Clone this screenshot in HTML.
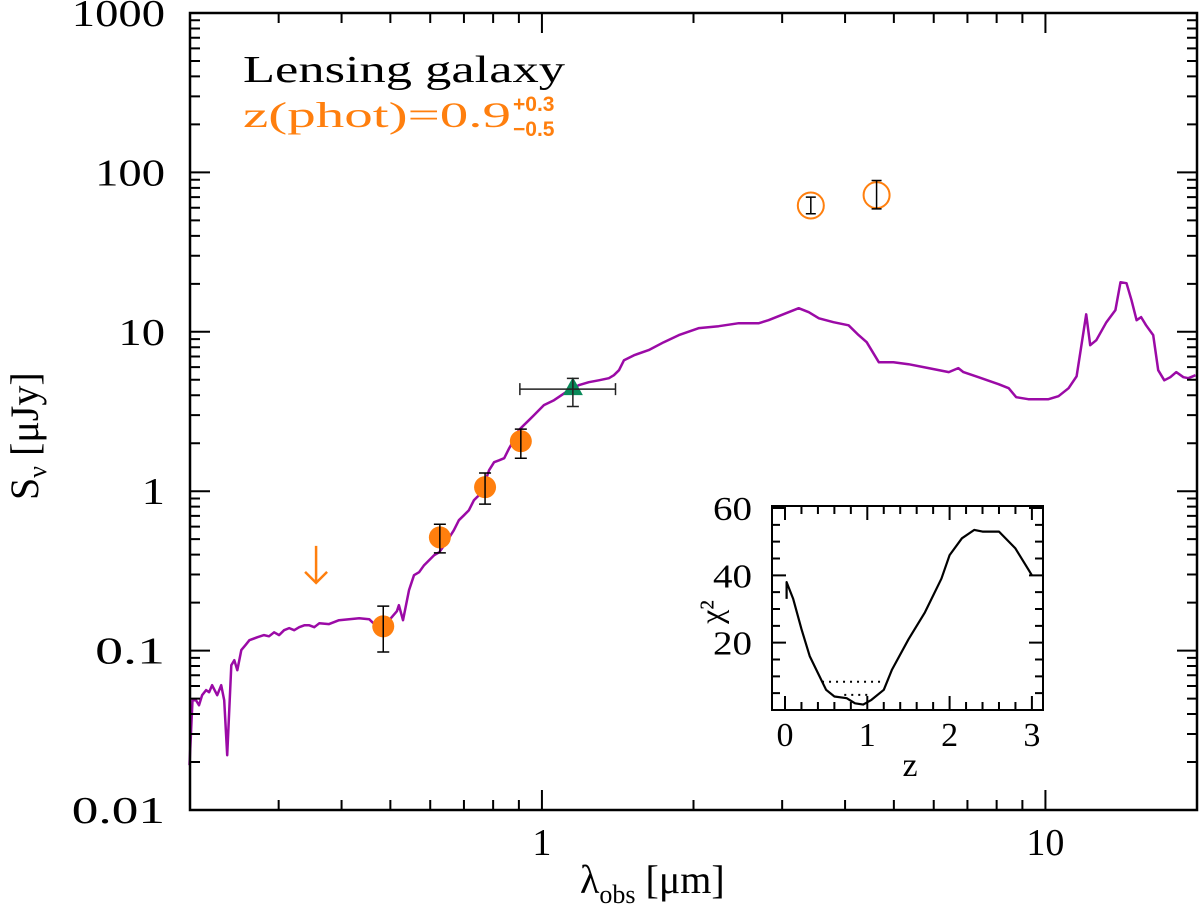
<!DOCTYPE html>
<html><head><meta charset="utf-8"><style>
html,body{margin:0;padding:0;background:#fff;}
svg{display:block;font-family:"Liberation Serif",serif;}
</style></head><body>
<svg id="chart" width="1200" height="911" viewBox="0 0 1200 911" xmlns="http://www.w3.org/2000/svg">
<g id="main"></g>
<g id="inset"></g>
<text x="243" y="82" font-size="38" textLength="322" lengthAdjust="spacingAndGlyphs">Lensing galaxy</text>
<text x="243" y="127" font-size="36" fill="#ff7f0e" textLength="268" lengthAdjust="spacingAndGlyphs">z(phot)=0.9</text>
<text x="513" y="111" font-size="21" fill="#ff7f0e" font-weight="bold" font-family="Liberation Sans, sans-serif">+0.3</text>
<text x="513" y="136" font-size="21" fill="#ff7f0e" font-weight="bold" font-family="Liberation Sans, sans-serif">−0.5</text>
<text x="580" y="893" font-size="40">λ<tspan font-size="26" dy="10">obs</tspan><tspan dy="-10"> [μm]</tspan></text>
<text transform="translate(38,500) rotate(-90)" font-size="40">S<tspan font-size="26" dy="8">ν</tspan><tspan dy="-8"> [μJy]</tspan></text>
</svg>
<script>
// SED template (log10 wavelength [µm], log10 flux [µJy])
const sedLogLam = [-0.700,-0.694,-0.687,-0.681,-0.675,-0.667,-0.661,-0.655,-0.645,-0.637,-0.631,-0.625,-0.617,-0.611,-0.605,-0.597,-0.589,-0.581,-0.565,-0.552,-0.542,-0.532,-0.522,-0.512,-0.502,-0.492,-0.482,-0.472,-0.462,-0.452,-0.442,-0.423,-0.403,-0.383,-0.363,-0.343,-0.333,-0.327,-0.313,-0.300,-0.288,-0.284,-0.276,-0.268,-0.264,-0.254,-0.244,-0.234,-0.224,-0.214,-0.204,-0.194,-0.185,-0.175,-0.165,-0.155,-0.145,-0.135,-0.125,-0.115,-0.105,-0.095,-0.085,-0.075,-0.065,-0.056,-0.046,-0.036,-0.026,-0.016,0.004,0.024,0.054,0.073,0.093,0.113,0.133,0.143,0.153,0.163,0.183,0.212,0.242,0.272,0.312,0.351,0.391,0.431,0.450,0.490,0.510,0.530,0.550,0.579,0.609,0.629,0.645,0.669,0.698,0.728,0.768,0.808,0.827,0.837,0.867,0.907,0.927,0.942,0.966,1.006,1.026,1.046,1.062,1.069,1.081,1.089,1.101,1.121,1.139,1.149,1.161,1.171,1.181,1.190,1.200,1.214,1.224,1.236,1.248,1.260,1.274,1.284,1.298];
const sedLogS = [-1.719,-1.311,-1.311,-1.343,-1.280,-1.248,-1.261,-1.217,-1.280,-1.217,-1.311,-1.656,-1.092,-1.060,-1.123,-0.997,-0.966,-0.935,-0.916,-0.903,-0.910,-0.885,-0.903,-0.872,-0.859,-0.872,-0.853,-0.841,-0.841,-0.853,-0.828,-0.834,-0.809,-0.803,-0.797,-0.803,-0.834,-0.859,-0.872,-0.797,-0.753,-0.715,-0.809,-0.684,-0.621,-0.527,-0.508,-0.464,-0.433,-0.401,-0.383,-0.339,-0.295,-0.245,-0.182,-0.151,-0.119,-0.056,-0.025,0.038,0.132,0.182,0.194,0.207,0.270,0.320,0.383,0.414,0.445,0.477,0.540,0.571,0.634,0.665,0.684,0.696,0.709,0.728,0.759,0.822,0.853,0.885,0.935,0.979,1.023,1.035,1.054,1.054,1.073,1.123,1.148,1.123,1.085,1.060,1.041,0.979,0.935,0.809,0.809,0.797,0.772,0.747,0.772,0.747,0.715,0.671,0.646,0.590,0.577,0.577,0.596,0.646,0.721,0.866,1.110,0.916,0.947,1.060,1.136,1.311,1.305,1.198,1.073,1.092,1.041,0.979,0.759,0.696,0.715,0.747,0.715,0.709,0.728];
// photometry (µm, µJy)
const photLam = [0.484,0.627,0.771,0.908];
const photS = [0.142,0.513,1.06,2.06];
const photHi = [0.19,0.62,1.3,2.45];
const photLo = [0.098,0.41,0.83,1.61];
const nirLam = [1.152], nirS = [4.37], nirHi = [5.1], nirLo = [3.4], nirLamLo = [0.904], nirLamHi = [1.40];
const iracLam = [3.42,4.62], iracS = [62,72], iracHi = [70,89], iracLo = [55,59];
const limitLam = [0.356], limitS = [0.34];
// chi2 inset
const chiZ = [0.02,0.02,0.1,0.2,0.3,0.4,0.5,0.6,0.75,0.85,0.95,1.05,1.2,1.3,1.5,1.7,1.9,2.0,2.15,2.3,2.4,2.5,2.6,2.8,2.95,3.0];
const chiV = [33,38,33,24,16,11,6,4,3.5,2,1.6,3,6,12,21,29,39,46,51,53.5,53,53,53,48,42,40];
const chiLevels = [8.4,4.5];
const chiLevelZ0 = [0.45,0.72], chiLevelZ1 = [1.2,1.05];
const yTicks = ["0.01","0.1","1","10","100","1000"];
const xTicks = ["1","10"];

const NS="http://www.w3.org/2000/svg";
function mk(parent,tag,attrs){const e=document.createElementNS(NS,tag);for(const k in attrs)e.setAttribute(k,attrs[k]);parent.appendChild(e);return e;}
const L=190,R=1197,T=13,B=810;
const lx0=Math.log10(0.2),lx1=Math.log10(20),ly0=-2,ly1=3;
const X=v=>L+(Math.log10(v)-lx0)/(lx1-lx0)*(R-L);
const XL=l=>L+(l-lx0)/(lx1-lx0)*(R-L);
const Y=v=>B-(Math.log10(v)-ly0)/(ly1-ly0)*(B-T);
const YL=l=>B-(l-ly0)/(ly1-ly0)*(B-T);
const main=document.getElementById('main');

let d='';sedLogLam.forEach((l,i)=>{d+=(i?'L':'M')+XL(l).toFixed(1)+','+YL(sedLogS[i]).toFixed(1);});
const sed=mk(main,'path',{d:d,fill:'none',stroke:'#9b0aa6','stroke-width':2.5,'stroke-linejoin':'round'});



limitLam.forEach((l,i)=>{const x=X(l),y=Y(limitS[i]);
 const a=mk(main,'path',{d:`M${x},${y-20}L${x},${y+17}M${x-11},${y+6}L${x},${y+17}L${x+11},${y+6}`,fill:'none',stroke:'#ff7f0e','stroke-width':2.5});
 
 });

photLam.forEach((l,i)=>{const x=X(l);
 const c=mk(main,'circle',{cx:x,cy:Y(photS[i]),r:11,fill:'#ff7f0e'});
 
 
 const e=mk(main,'path',{d:`M${x},${Y(photHi[i])}L${x},${Y(photLo[i])}M${x-6},${Y(photHi[i])}L${x+6},${Y(photHi[i])}M${x-6},${Y(photLo[i])}L${x+6},${Y(photLo[i])}`,stroke:'#000','stroke-width':1.5,fill:'none'});
 
 });

nirLam.forEach((l,i)=>{const x=X(l),y=Y(nirS[i]);
 const t=mk(main,'path',{d:`M${x},${y-12}L${x+10},${y+6}L${x-10},${y+6}Z`,fill:'#0a8a5a'});
 
 
 const x0=X(nirLamLo[i]),x1=X(nirLamHi[i]),y0=Y(nirHi[i]),y1=Y(nirLo[i]);
 const e=mk(main,'path',{d:`M${x0},${y}L${x1},${y}M${x0},${y-6}L${x0},${y+6}M${x1},${y-6}L${x1},${y+6}M${x},${y0}L${x},${y1}M${x-6},${y0}L${x+6},${y0}M${x-6},${y1}L${x+6},${y1}`,stroke:'#222','stroke-width':1.5,fill:'none'});
 
 });

iracLam.forEach((l,i)=>{const x=X(l);
 const c=mk(main,'circle',{cx:x,cy:Y(iracS[i]),r:13,fill:'none',stroke:'#ff7f0e','stroke-width':2});
 
 
 const e=mk(main,'path',{d:`M${x},${Y(iracHi[i])}L${x},${Y(iracLo[i])}M${x-5},${Y(iracHi[i])}L${x+5},${Y(iracHi[i])}M${x-5},${Y(iracLo[i])}L${x+5},${Y(iracLo[i])}`,stroke:'#000','stroke-width':1.5,fill:'none'});
 
 });

const fr=mk(main,'rect',{x:L,y:T,width:R-L,height:B-T,fill:'none',stroke:'#000','stroke-width':2.5});


let td='';
for(let dec=-2;dec<3;dec++)for(let m=1;m<10;m++){const y=YL(dec+Math.log10(m));const len=m==1?20:10;td+=`M${L},${y}L${L+len},${y}M${R},${y}L${R-len},${y}`;}
for(let dec=-1;dec<2;dec++)for(let m=1;m<10;m++){const v=m*Math.pow(10,dec);if(v<0.2||v>20)continue;const x=X(v);const len=m==1?20:10;td+=`M${x},${B}L${x},${B-len}M${x},${T}L${x},${T+len}`;}
const tk=mk(main,'path',{d:td,stroke:'#000','stroke-width':2,fill:'none'});


yTicks.forEach(s=>{const t=mk(main,'text',{x:165,y:Y(parseFloat(s))+13,'font-size':38,'text-anchor':'end',textLength:s.length*23.3,lengthAdjust:'spacingAndGlyphs'});t.textContent=s;
 
 });
xTicks.forEach(s=>{const t=mk(main,'text',{x:X(parseFloat(s)),y:855,'font-size':38,'text-anchor':'middle'});t.textContent=s;
 
 });

const ins=document.getElementById('inset');
const iL=772,iR=1043,iT=506,iB=710;
const zX=z=>785+z*82.3;
const cY=v=>iB-v/60.6*(iB-iT);
mk(ins,'rect',{x:iL,y:iT,width:iR-iL,height:iB-iT,fill:'#fff',stroke:'none'});
let cd='';chiZ.forEach((z,i)=>{cd+=(i?'L':'M')+zX(z).toFixed(1)+','+cY(chiV[i]).toFixed(1);});
const cc=mk(ins,'path',{d:cd,fill:'none',stroke:'#000','stroke-width':2.2,'stroke-linejoin':'round'});


chiLevels.forEach((v,i)=>{const ln=mk(ins,'line',{x1:zX(chiLevelZ0[i]),x2:zX(chiLevelZ1[i]),y1:cY(v),y2:cY(v),stroke:'#000','stroke-width':2,'stroke-dasharray':'2,5'});
 
 });
const ifr=mk(ins,'rect',{x:iL,y:iT,width:iR-iL,height:iB-iT,fill:'none',stroke:'#000','stroke-width':2});


let itd='';
for(let k=0;k<=15;k++){const z=k*0.2;const x=zX(z);const len=(k%5==0)?14:8;itd+=`M${x},${iB}L${x},${iB-len}M${x},${iT}L${x},${iT+len}`;}
for(let v=5;v<=60;v+=5){const y=cY(v);const len=(v%20==0)?14:8;itd+=`M${iL},${y}L${iL+len},${y}M${iR},${y}L${iR-len},${y}`;}
const itk=mk(ins,'path',{d:itd,stroke:'#000','stroke-width':2,fill:'none'});


[20,40,60].forEach(v=>{const t=mk(ins,'text',{x:752,y:cY(v)+12,'font-size':34,'text-anchor':'end',textLength:39,lengthAdjust:'spacingAndGlyphs'});t.textContent=String(v);
 
 });
[0,1,2,3].forEach(z=>{const t=mk(ins,'text',{x:zX(z),y:746,'font-size':34,'text-anchor':'middle'});t.textContent=String(z);
 
 });
const zt=mk(ins,'text',{x:910,y:776,'font-size':34,'text-anchor':'middle'});zt.textContent='z';


const yt=mk(ins,'text',{transform:'translate(722,612) rotate(-90)','font-size':32,'text-anchor':'middle'});yt.textContent='χ²';


</script>
</body></html>
